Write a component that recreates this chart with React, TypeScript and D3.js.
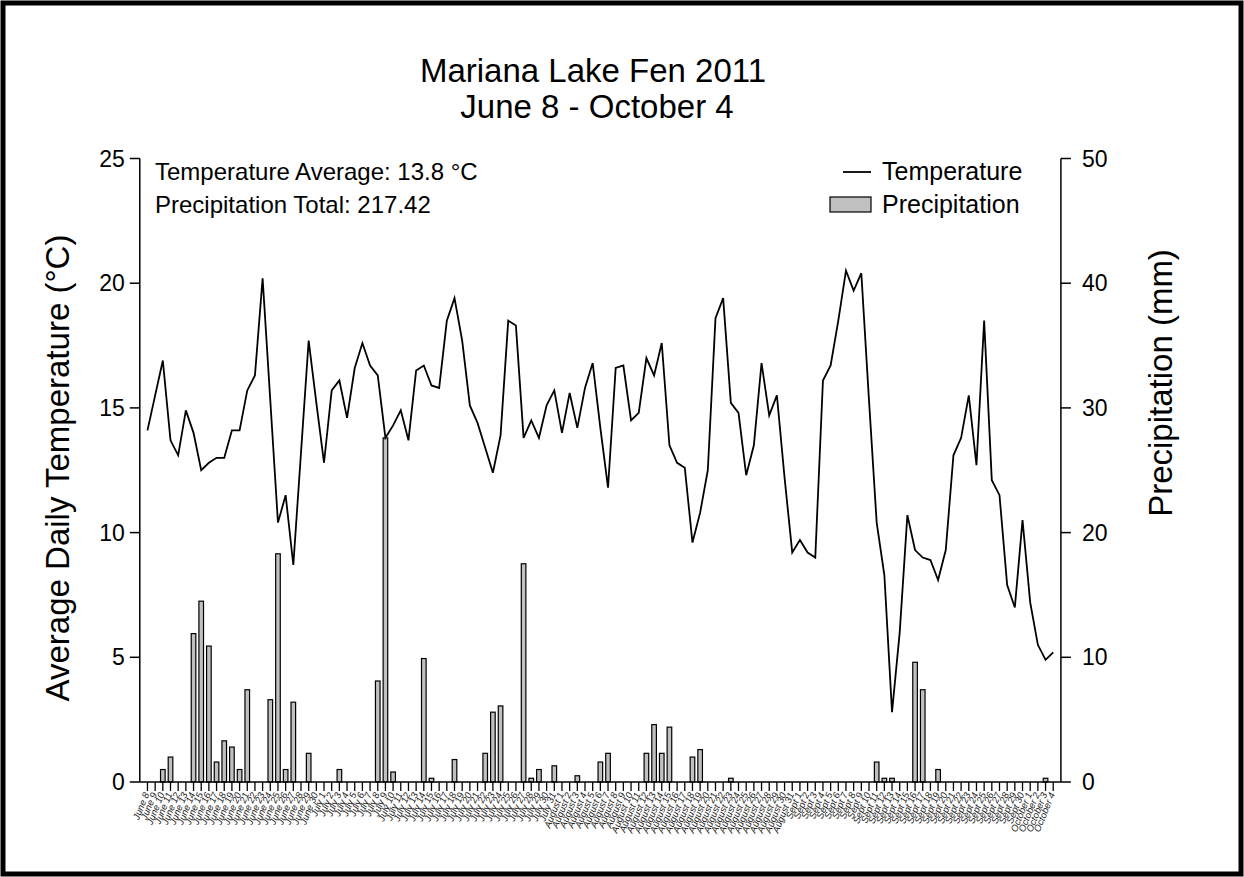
import React from "react";
import * as d3 from "d3";

// Daily mean air temperature (°C), June 8 – October 4, 2011
const temperature: number[] = [
  14.1, 15.5, 16.9, 13.7, 13.1, 14.9, 14.0, 12.5, 12.8, 13.0,
  13.0, 14.1, 14.1, 15.7, 16.3, 20.2, 15.3, 10.4, 11.5, 8.7,
  13.2, 17.7, 15.2, 12.8, 15.7, 16.1, 14.6, 16.6, 17.6, 16.7,
  16.3, 13.8, 14.3, 14.9, 13.7, 16.5, 16.7, 15.9, 15.8, 18.5,
  19.4, 17.7, 15.1, 14.4, 13.4, 12.4, 13.9, 18.5, 18.3, 13.8,
  14.5, 13.8, 15.1, 15.7, 14.0, 15.6, 14.2, 15.8, 16.8, 14.2,
  11.8, 16.6, 16.7, 14.5, 14.8, 17.0, 16.3, 17.6, 13.5, 12.8,
  12.6, 9.6, 10.8, 12.5, 18.6, 19.4, 15.2, 14.8, 12.3, 13.5,
  16.8, 14.7, 15.5, 12.2, 9.2, 9.7, 9.2, 9.0, 16.1, 16.7,
  18.5, 20.5, 19.7, 20.4, 15.3, 10.4, 8.3, 2.8, 6.0, 10.7,
  9.3, 9.0, 8.9, 8.1, 9.3, 13.1, 13.8, 15.5, 12.7, 18.5,
  12.1, 11.5, 7.9, 7.0, 10.5, 7.2, 5.5, 4.9, 5.2,
];

// Daily precipitation (mm), same days
const precipitation: number[] = [
  0, 0, 1.0, 2.0, 0, 0, 11.9, 14.5, 10.9, 1.6,
  3.3, 2.8, 1.0, 7.4, 0, 0, 6.6, 18.3, 1.0, 6.4,
  0, 2.3, 0, 0, 0, 1.0, 0, 0, 0, 0,
  8.1, 27.6, 0.8, 0, 0, 0, 9.9, 0.3, 0, 0,
  1.8, 0, 0, 0, 2.3, 5.6, 6.1, 0, 0, 17.5,
  0.3, 1.0, 0, 1.3, 0, 0, 0.5, 0, 0, 1.6,
  2.3, 0, 0, 0, 0, 2.3, 4.6, 2.3, 4.4, 0,
  0, 2.0, 2.6, 0, 0, 0, 0.3, 0, 0, 0,
  0, 0, 0, 0, 0, 0, 0, 0, 0, 0,
  0, 0, 0, 0, 0, 1.6, 0.3, 0.3, 0, 0,
  9.6, 7.4, 0, 1.0, 0, 0, 0, 0, 0, 0,
  0, 0, 0, 0, 0, 0, 0, 0.3, 0,
];

// Month segments of the record: label, first day, last day
const months: [string, number, number][] = [
  ["June", 8, 30],
  ["July", 1, 31],
  ["August", 1, 31],
  ["Sept", 1, 30],
  ["October", 1, 4],
];

const tempTicks = [0, 5, 10, 15, 20, 25];
const precipTicks = [0, 10, 20, 30, 40, 50];

const dayLabels: string[] = months.flatMap(([m, a, b]) =>
  d3.range(a, b + 1).map((d) => `${m} ${d}`)
);

const W = 1244;
const H = 877;
const FONT = "Arial, 'Liberation Sans', Helvetica, sans-serif";

export default function App() {
  const n = temperature.length;
  const x = d3.scaleLinear().domain([-1, n]).range([139.8, 1060.9]);
  const yT = d3.scaleLinear().domain([0, 25]).range([782, 158.5]);
  const yP = d3.scaleLinear().domain([0, 50]).range([782, 158.5]);
  const left = x(-1);
  const right = x(n);
  const bottom = yT(0);
  const top = yT(25);
  const barW = 4.6;

  const line = d3
    .line<number>()
    .x((_, i) => x(i))
    .y((d) => yT(d));

  return (
    <svg
      width={W}
      height={H}
      style={{ position: "absolute", left: 0, top: 0, background: "#fff" }}
      fontFamily={FONT}
    >
      <rect x={0} y={0} width={W} height={H} fill="#fff" />
      <rect x={3} y={3} width={W - 6} height={H - 6} fill="none" stroke="#000" strokeWidth={5} />

      {/* Title */}
      <text x={593} y={82} textAnchor="middle" fontSize={33} fill="#000">
        Mariana Lake Fen 2011
      </text>
      <text x={597} y={118} textAnchor="middle" fontSize={33} fill="#000">
        June 8 - October 4
      </text>

      {/* Precipitation bars */}
      {precipitation.map((p, i) =>
        p > 0 ? (
          <rect
            key={"b" + i}
            x={x(i) - barW / 2}
            y={yP(p)}
            width={barW}
            height={bottom - yP(p)}
            fill="#c0c0c0"
            stroke="#000"
            strokeWidth={1.2}
          />
        ) : null
      )}

      {/* Temperature line */}
      <path d={line(temperature) ?? ""} fill="none" stroke="#000" strokeWidth={1.8} strokeLinejoin="miter" />

      {/* Axes */}
      <line x1={left} x2={left} y1={top} y2={bottom} stroke="#000" strokeWidth={1.5} />
      <line x1={right} x2={right} y1={top} y2={bottom} stroke="#000" strokeWidth={1.5} />
      <line x1={left} x2={right} y1={bottom} y2={bottom} stroke="#000" strokeWidth={1.5} />

      {tempTicks.map((t) => (
        <g key={"lt" + t}>
          <line x1={left - 10} x2={left} y1={yT(t)} y2={yT(t)} stroke="#000" strokeWidth={1.5} />
          <text x={left - 15} y={yT(t) + 8} textAnchor="end" fontSize={23}>
            {t}
          </text>
        </g>
      ))}
      {precipTicks.map((t) => (
        <g key={"rt" + t}>
          <line x1={right} x2={right + 10} y1={yP(t)} y2={yP(t)} stroke="#000" strokeWidth={1.5} />
          <text x={right + 21} y={yP(t) + 8} textAnchor="start" fontSize={23}>
            {t}
          </text>
        </g>
      ))}

      {dayLabels.map((lab, i) => (
        <g key={"xt" + i}>
          <line x1={x(i)} x2={x(i)} y1={bottom} y2={bottom + 9} stroke="#000" strokeWidth={1.3} />
          <text
            transform={`translate(${x(i) + 2},${bottom + 12}) rotate(-68)`}
            textAnchor="end"
            fontSize={9.5}
            fontStyle="italic"
            fill="#222"
          >
            {lab}
          </text>
        </g>
      ))}

      {/* Axis titles */}
      <text
        transform={`translate(69,468) rotate(-90)`}
        textAnchor="middle"
        fontSize={33}
      >
        Average Daily Temperature (°C)
      </text>
      <text transform={`translate(1172,383) rotate(-90)`} textAnchor="middle" fontSize={33}>
        Precipitation (mm)
      </text>

      {/* Summary text */}
      <text x={155} y={180} fontSize={24}>
        Temperature Average: 13.8 °C
      </text>
      <text x={155} y={213} fontSize={24}>
        Precipitation Total: 217.42
      </text>

      {/* Legend */}
      <line x1={843} x2={871} y1={172} y2={172} stroke="#000" strokeWidth={1.8} />
      <text x={882} y={180} fontSize={25}>
        Temperature
      </text>
      <rect x={830} y={197} width={41} height={15} fill="#c0c0c0" stroke="#000" strokeWidth={1.2} />
      <text x={882} y={213} fontSize={25}>
        Precipitation
      </text>
    </svg>
  );
}
